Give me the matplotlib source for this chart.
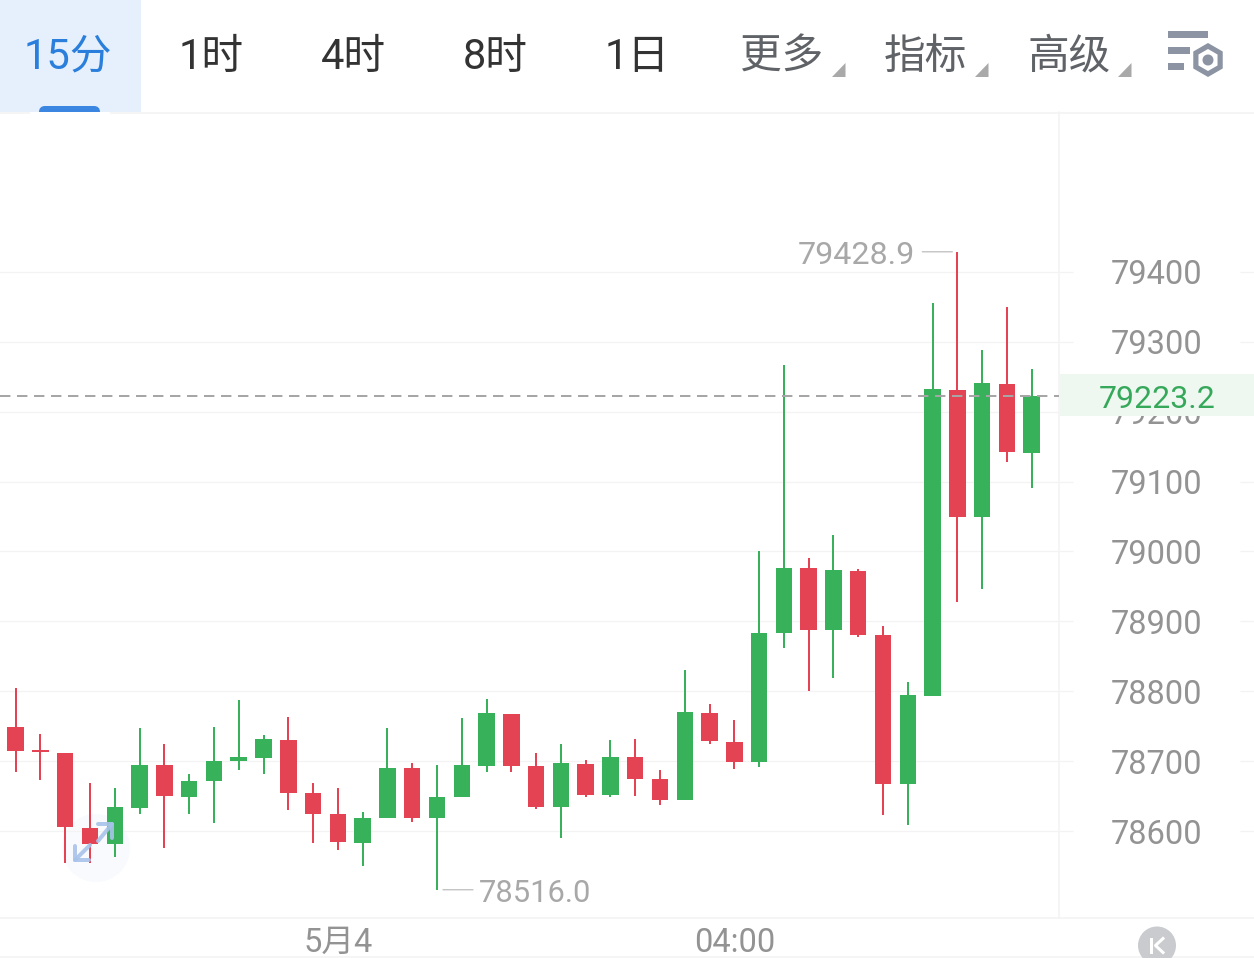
import matplotlib
matplotlib.use("Agg")
import matplotlib.pyplot as plt
from matplotlib.patches import Rectangle, Circle, Polygon, RegularPolygon, FancyBboxPatch

opens = [78749,78715,78712,78605,78581,78633,78694,78649,78671,78700,78705,78730,78654,78624,78583,78618,78690,78618,78648,78693,78768,78693,78634,78696,78651,78706,78674,78645,78769,78728,78699,78883,78976,78887,78972,78880,78667,78793,79231,79049,79240,79141]
closes = [78715,78713,78606,78581,78634,78695,78650,78672,78700,78706,78731,78655,78625,78584,78619,78690,78619,78648,78694,78769,78693,78634,78697,78652,78706,78675,78645,78770,78729,78699,78884,78977,78887,78973,78880,78668,78794,79232,79049,79241,79142,79223.2]
highs = [78804,78739,78712,78669,78662,78747,78725,78681,78749,78787,78738,78763,78669,78662,78627,78748,78697,78695,78762,78789,78768,78712,78724,78702,78730,78731,78688,78830,78782,78759,79001,79267,78990,79024,78975,78894,78813,79355,79428.9,79289,79350,79261]
lows = [78685,78673,78554,78554,78563,78624,78575,78625,78611,78688,78682,78630,78583,78573,78550,78618,78613,78516,78648,78685,78684,78632,78590,78649,78649,78650,78637,78645,78725,78689,78692,78862,78801,78819,78877,78623,78609,78793,78928,78947,79128,79091]
price_ticks = [78600,78700,78800,78900,79000,79100,79200,79300,79400]
time_positions = [13, 29]
time_labels = ["5月4", "04:00"]
last_price = 79223.2
max_price = 79428.9
min_price = 78516.0
tabs = ["15分", "1时", "4时", "8时", "1日", "更多", "指标", "高级"]

W, H = 1254, 958
RED, GREEN = "#e44354", "#37b15a"
GRID = "#f3f3f3"
LABEL = "#939393"
FONT = ["Roboto", "Noto Sans CJK SC", "DejaVu Sans"]
px = 72 / 100
plt.rcParams["font.family"] = FONT

fig = plt.figure(figsize=(W / 100, H / 100), dpi=100, facecolor="white")

def overlay(z):
    a = fig.add_axes([0, 0, 1, 1], zorder=z, facecolor="none")
    a.set_xlim(0, W); a.set_ylim(H, 0); a.axis("off")
    return a

under = overlay(0)
over = overlay(5)

# Main chart
ax = fig.add_axes([0, (H - 918) / H, 1059 / W, (918 - 112) / H], zorder=1, facecolor="none")
x0, dx = 15.7, 24.78
ax.set_xlim(-x0 / dx, (1059 - x0) / dx)
ax.set_ylim(78600 - (918 - 831) / 0.699, 79400 + (272 - 112) / 0.699)
for s in ["top", "left"]:
    ax.spines[s].set_visible(False)
for s in ["right", "bottom"]:
    ax.spines[s].set_color(GRID)
    ax.spines[s].set_linewidth(1.5 * px)

ax.yaxis.tick_right()
ax.set_yticks(price_ticks)
ax.set_yticklabels([str(p) for p in price_ticks], ha="center", color=LABEL, fontsize=23.5)
ax.tick_params(axis="y", length=14 * px, width=1.2 * px, color=GRID, pad=84 * px)
ax.set_xticks(time_positions)
ax.set_xticklabels(time_labels, color=LABEL, fontsize=23.5)
ax.tick_params(axis="x", length=0, pad=6.3)
ax.grid(axis="y", color=GRID, lw=1.2 * px)
ax.set_axisbelow(True)
ax.hlines(price_ticks, 1240 / 1059, W / 1059, transform=ax.get_yaxis_transform(), color=GRID, lw=1.2 * px, clip_on=False)

xs = list(range(len(opens)))
cols = [GREEN if c >= o else RED for o, c in zip(opens, closes)]
ax.vlines(xs, lows, highs, colors=cols, lw=2 * px, zorder=3)
ax.bar(xs, [max(abs(c - o), 2.5) for o, c in zip(opens, closes)],
       bottom=[min(o, c) for o, c in zip(opens, closes)], width=0.665, color=cols, zorder=4)
ax.axhline(last_price, color="#a6a6a6", lw=2 * px, dashes=(5.2, 3.3), zorder=5)

# Extreme labels
hi_i = highs.index(max_price)
lo_i = lows.index(min_price)
grey = "#a8a8a8"
ax.annotate(f"{max_price:.1f}", xy=(hi_i, max_price), xytext=(-42, -4), textcoords="offset pixels",
            ha="right", va="center", color=grey, fontsize=23.2, zorder=6)
ax.annotate("", xy=(hi_i - 5 / dx, max_price), xytext=(-30, 0), textcoords="offset pixels",
            arrowprops=dict(arrowstyle="-", color="#c4c4c4", lw=1.4 * px, shrinkA=0, shrinkB=0))
ax.annotate(f"{min_price:.1f}", xy=(lo_i, min_price), xytext=(42, -4), textcoords="offset pixels",
            ha="left", va="center", color=grey, fontsize=22.2, zorder=6)
ax.annotate("", xy=(lo_i + 6 / dx, min_price), xytext=(30, 0), textcoords="offset pixels",
            arrowprops=dict(arrowstyle="-", color="#c4c4c4", lw=1.4 * px, shrinkA=0, shrinkB=0))

# Underlay chrome
under.add_patch(Circle((96, 848), 34, fc="#f8fafe", ec="none"))
under.plot([0, W], [112.5, 112.5], color=GRID, lw=1.5 * px)
under.plot([1059, W], [918, 918], color=GRID, lw=1.5 * px)
under.plot([0, W], [957, 957], color=GRID, lw=1.5 * px)

# Toolbar
over.add_patch(Rectangle((0, 0), 141, 112, fc="#e6f0fc", ec="none"))
over.add_patch(FancyBboxPatch((41, 108), 57, 8, boxstyle="round,pad=0,rounding_size=4", mutation_aspect=1,
                              fc="#3b86e0", ec="#3b86e0", lw=4 * px))
over.add_patch(Rectangle((30, 112), 80, 10, fc="white", ec="none"))
tab_x = [68, 211, 353, 495, 637, 782, 925, 1069]
tab_c = ["#2a7fdc"] + ["#333333"] * 4 + ["#5f6266"] * 3
for t, x, c in zip(tabs, tab_x, tab_c):
    over.text(x, 57, t, ha="center", va="center", color=c, fontsize=30)
for x in [832, 975, 1118]:
    over.add_patch(Polygon([(x, 77), (x + 13.5, 63), (x + 13.5, 77)], fc="#a9a9a9", ec="none"))

ICON = "#8c94a3"
over.add_patch(Rectangle((1168, 31), 40, 7, fc=ICON, ec="none"))
over.add_patch(Rectangle((1168, 47), 22, 6.5, fc=ICON, ec="none"))
over.add_patch(Rectangle((1168, 63), 16, 7, fc=ICON, ec="none"))
over.add_patch(RegularPolygon((1208, 60), 6, radius=17, fc=ICON, ec="none"))
over.add_patch(RegularPolygon((1208, 60), 6, radius=11, fc="white", ec="none"))
over.add_patch(Circle((1208, 60), 5.5, fc=ICON, ec="none"))

# Last price badge
over.add_patch(Rectangle((1059, 374), W - 1059, 42, fc="#eef8f1", ec="none"))
over.text(1157, 399, f"{last_price:.1f}", ha="center", va="center", color="#35a85a", fontsize=23)

# Zoom arrows
arrow = dict(color="#a8c3ea", lw=4 * px, alpha=0.9, solid_capstyle="round", solid_joinstyle="round")
over.plot([89, 75, 75], [860, 860, 846], **arrow)
over.plot([75, 90], [860, 845], **arrow)
over.plot([98, 112, 112], [824, 824, 838], **arrow)
over.plot([112, 98], [824, 841], **arrow)

# Collapse button
over.add_patch(Circle((1157, 945.5), 19, fc="#c9cbce", ec="none"))
over.plot([1151, 1151], [939, 952], color="white", lw=3 * px)
over.plot([1163, 1155.5, 1163], [938.5, 945.5, 952.5], color="white", lw=3 * px)

fig.savefig("out.png", dpi=100)
